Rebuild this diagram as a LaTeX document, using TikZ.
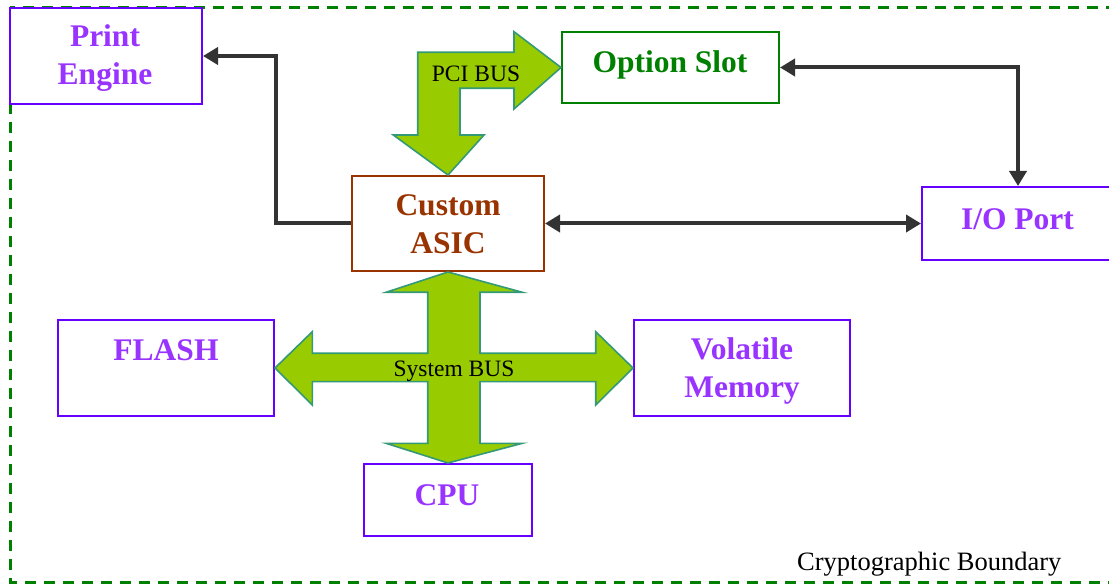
\documentclass[tikz,border=0pt]{standalone}
\usepackage{fontspec}
\setmainfont{Liberation Serif}
\usetikzlibrary{arrows.meta}
\definecolor{boxpurple}{HTML}{6600FF}
\definecolor{txtpurple}{HTML}{9933FF}
\definecolor{optgreen}{HTML}{008000}
\definecolor{asicbrown}{HTML}{993300}
\definecolor{busfill}{HTML}{99CC00}
\definecolor{busedge}{HTML}{339977}
\definecolor{conncol}{HTML}{333333}
\definecolor{bndgreen}{HTML}{008000}
\tikzset{
  box/.style={draw, line width=2pt, fill=white, minimum width=#1, inner sep=0pt},
  bigtxt/.style={font=\fontsize{31.5}{38}\selectfont\bfseries, inner sep=0pt, anchor=base},
  bustxt/.style={font=\fontsize{23.5}{28}\selectfont, inner sep=0pt, anchor=base, text=black},
  bus/.style={fill=busfill, draw=busedge, line width=1.6pt, line join=miter},
  conn/.style={draw=conncol, line width=4pt, {Triangle[length=15pt,width=17pt]}-{Triangle[length=15pt,width=17pt]}},
  conn1/.style={draw=conncol, line width=4pt, -{Triangle[length=15pt,width=17pt]}},
  boundary/.style={draw=bndgreen, line width=3pt, dash pattern=on 11pt off 8pt}
}
\begin{document}
\begin{tikzpicture}[x=1pt,y=-1pt]
\useasboundingbox (0,0) rectangle (1109,585);
\clip (0,0) rectangle (1109,585);
\fill[white] (0,0) rectangle (1109,585);
% boundary
\draw[boundary] (10,8) rectangle (1120,582);
% boxes
\node[box=192pt, minimum height=96pt, draw=boxpurple] (print) at (106,56) {};
\node[box=217pt, minimum height=71pt, draw=optgreen] (opt) at (670.5,67.5) {};
\node[box=192pt, minimum height=95pt, draw=asicbrown] (asic) at (448,223.5) {};
\node[box=192pt, minimum height=73pt, draw=boxpurple] (io) at (1018,223.5) {};
\node[box=216pt, minimum height=96pt, draw=boxpurple] (flash) at (166,368) {};
\node[box=216pt, minimum height=96pt, draw=boxpurple] (vol) at (742,368) {};
\node[box=168pt, minimum height=72pt, draw=boxpurple] (cpu) at (448,500) {};
% texts
\node[bigtxt, text=txtpurple] (printT1) at (105,47) {Print};
\node[bigtxt, text=txtpurple] (printT2) at (105,85) {Engine};
\node[bigtxt, text=optgreen] (optT) at (670,73) {Option Slot};
\node[bigtxt, text=asicbrown] (asicT1) at (448,216) {Custom};
\node[bigtxt, text=asicbrown] (asicT2) at (448,253.5) {ASIC};
\node[bigtxt, text=txtpurple] (ioT) at (1017.5,229.5) {I/O Port};
\node[bigtxt, text=txtpurple] (flashT) at (166,361) {FLASH};
\node[bigtxt, text=txtpurple] (volT1) at (742,360) {Volatile};
\node[bigtxt, text=txtpurple] (volT2) at (742,398) {Memory};
\node[bigtxt, text=txtpurple] (cpuT) at (447,505) {CPU};
% PCI bus arrow
\draw[bus] (417.7,52.3) -- (514,52.3) -- (514,31.7) -- (opt.west) -- (514,109) -- (514,88.3)
  -- (460,88.3) -- (460,135) -- (484,135) -- (asic.north) -- (393.3,135) -- (417.7,135) -- cycle;
\node[bustxt] (pciT) at (476,81.7) {PCI BUS};
% System bus arrow
\draw[bus] (asic.south) -- (522.3,292.3) -- (480,292.3) -- (480,353.3) -- (595.7,353.3) -- (595.7,331.7)
  -- (vol.west) -- (595.7,405) -- (595.7,381.7) -- (480,381.7) -- (480,443.3) -- (522.3,443.3)
  -- (cpu.north) -- (386,443.3) -- (427.7,443.3) -- (427.7,381.7) -- (312.3,381.7) -- (312.3,405)
  -- (flash.east) -- (312.3,331.7) -- (312.3,353.3) -- (427.7,353.3) -- (427.7,292.3) -- (386,292.3) -- cycle;
\node[bustxt] (sysT) at (454,376.7) {System BUS};
% connectors
\draw[conn1] (asic.west) -- ([xshift=-75pt]asic.west) |- (print.east);
\draw[conn] (asic.east) -- (io.west);
\draw[conn] (opt.east) -| (io.north);
% boundary label
\node[font=\fontsize{26.5}{32}\selectfont, inner sep=0pt, anchor=base west] (bndT) at (797,570) {Cryptographic Boundary};
\end{tikzpicture}
\end{document}
